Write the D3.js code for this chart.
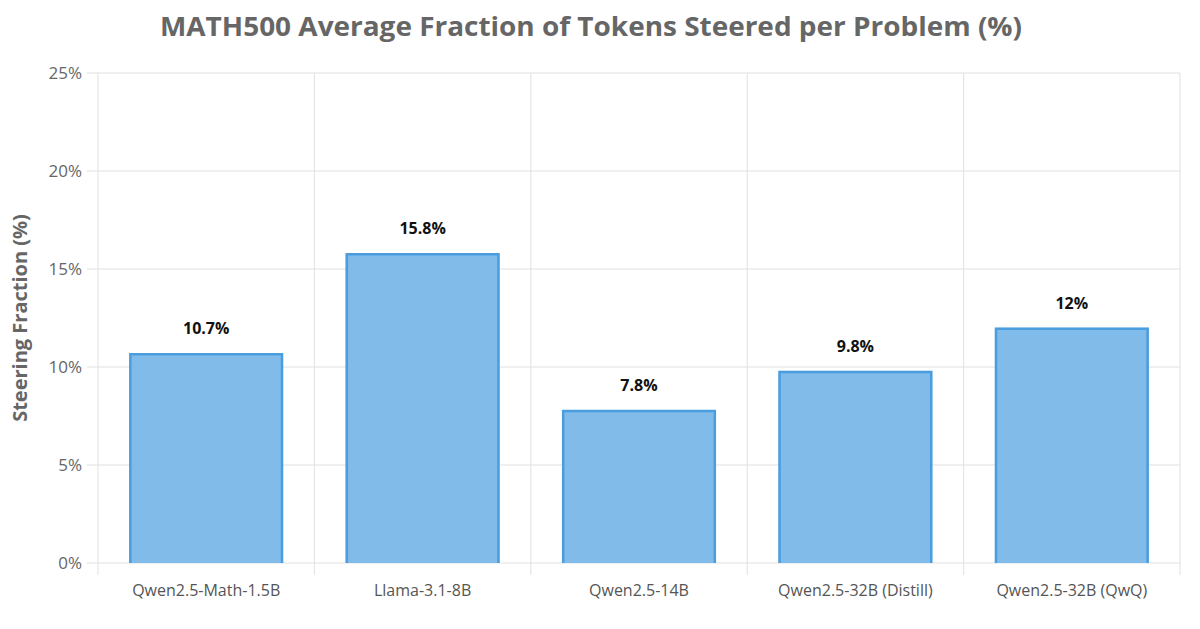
<!DOCTYPE html><html><head><meta charset="utf-8"><script src="https://cdn.jsdelivr.net/npm/d3@7"></script>
<style>body{margin:0;background:#fff}text{font-family:"Open Sans",sans-serif}</style></head><body><svg width="1200" height="629"></svg>
<script>
const categories=["Qwen2.5-Math-1.5B","Llama-3.1-8B","Qwen2.5-14B","Qwen2.5-32B (Distill)","Qwen2.5-32B (QwQ)"];
const values=[10.7,15.8,7.8,9.8,12];
const labels=["10.7%","15.8%","7.8%","9.8%","12%"];
const yTicks=[0,5,10,15,20,25];
const svg=d3.select("svg");
const L=98,R=1180,T=73,B=563;
const x=d3.scaleBand().domain(categories).range([L,R]).paddingInner(0).paddingOuter(0);
const y=d3.scaleLinear().domain([0,25]).range([B,T]);
const g=svg.append("g");
yTicks.forEach(t=>{g.append("line").attr("x1",87).attr("x2",R).attr("y1",y(t)).attr("y2",y(t)).attr("stroke","#e0e0e0");
g.append("text").attr("x",82).attr("y",y(t)).attr("dy","0.35em").attr("text-anchor","end").attr("font-size",17).attr("fill","#666").text(t+"%");});
d3.range(categories.length+1).forEach(i=>{const xx=L+i*x.bandwidth();g.append("line").attr("x1",xx).attr("x2",xx).attr("y1",T).attr("y2",575).attr("stroke","#e0e0e0");});
const w=x.bandwidth()*0.71;
categories.forEach((c,i)=>{const x0=x(c)+(x.bandwidth()-w)/2,y0=y(values[i]);
g.append("rect").attr("x",x0).attr("y",y0).attr("width",w).attr("height",B-y0).attr("fill","#80bbea");
g.append("path").attr("d",`M${x0+1},${B}V${y0+1}H${x0+w-1}V${B}`).attr("fill","none").attr("stroke","#4a9ddf").attr("stroke-width",2.5);
g.append("text").attr("x",x(c)+x.bandwidth()/2).attr("y",y0-19).attr("text-anchor","middle").attr("font-size",16).attr("font-weight","bold").attr("fill","#111").text(labels[i]);
g.append("text").attr("x",x(c)+x.bandwidth()/2).attr("y",596).attr("text-anchor","middle").attr("font-size",16).attr("fill","#555").text(c);});
svg.append("text").attr("x",591).attr("y",36).attr("text-anchor","middle").attr("font-size",27).attr("font-weight","bold").attr("fill","#666").attr("textLength",862).attr("lengthAdjust","spacingAndGlyphs").text("MATH500 Average Fraction of Tokens Steered per Problem (%)");
svg.append("text").attr("transform","translate(27,318) rotate(-90)").attr("text-anchor","middle").attr("font-size",20).attr("font-weight","bold").attr("fill","#666").text("Steering Fraction (%)");
</script></body></html>
